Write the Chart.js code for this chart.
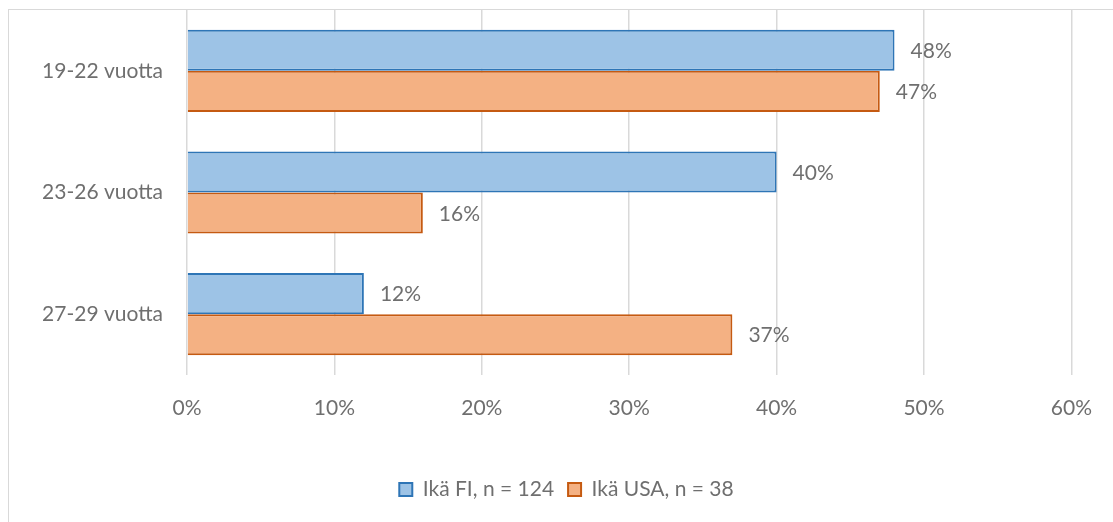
<!DOCTYPE html>
<html>
<head>
<meta charset="utf-8">
<script src="https://cdn.jsdelivr.net/npm/chart.js@4/dist/chart.umd.min.js"></script>
<style>
  body { margin: 0; background: #fff; }
  #frame { position: absolute; left: 8px; top: 9px; width: 1200px; height: 600px; border: 1.5px solid #d9d9d9; }
  #wrap { position: absolute; left: 0; top: 0; width: 1113px; height: 522px; }
</style>
</head>
<body>
<div id="frame"></div>
<div id="wrap"><canvas id="ageChart" width="1113" height="522"></canvas></div>
<script>
// age groups and shares (%)
const categories = ['19-22 vuotta', '23-26 vuotta', '27-29 vuotta'];
const fiValues = [48, 40, 12];
const usaValues = [47, 16, 37];
const fiLabel = 'Ikä FI, n = 124';
const usaLabel = 'Ikä USA, n = 38';
const xTicks = [0, 10, 20, 30, 40, 50, 60];

const textGray = '#6f6f6f';
const fontFamily = 'Lato, "Open Sans", sans-serif';
const fontSize = 21;

// draws the "48%" style labels at the end of each bar
const barValueLabels = {
  id: 'barValueLabels',
  afterDatasetsDraw(chart) {
    const ctx = chart.ctx;
    ctx.save();
    ctx.font = fontSize + 'px ' + fontFamily;
    ctx.fillStyle = textGray;
    ctx.textBaseline = 'middle';
    ctx.textAlign = 'left';
    chart.data.datasets.forEach((ds, i) => {
      chart.getDatasetMeta(i).data.forEach((bar, j) => {
        ctx.fillText(ds.data[j] + '%', bar.x + 16, bar.y + 1);
      });
    });
    ctx.restore();
  }
};

// legend in the original sits a bit right of centre
const nudgeLegend = {
  id: 'nudgeLegend',
  afterLayout(chart) {
    chart.legend.left += 30;
    chart.legend.right += 30;
  }
};

new Chart(document.getElementById('ageChart').getContext('2d'), {
  type: 'bar',
  data: {
    labels: categories,
    datasets: [
      {
        label: fiLabel,
        data: fiValues,
        backgroundColor: '#9dc3e6',
        borderColor: '#2e75b6',
        borderWidth: 2,
        categoryPercentage: 0.675,
        barPercentage: 1
      },
      {
        label: usaLabel,
        data: usaValues,
        backgroundColor: '#f4b183',
        borderColor: '#c55a11',
        borderWidth: 2,
        categoryPercentage: 0.675,
        barPercentage: 1
      }
    ]
  },
  options: {
    indexAxis: 'y',
    responsive: false,
    animation: false,
    layout: { padding: { left: 0, right: 40, top: 10, bottom: 12 } },
    scales: {
      x: {
        min: 0,
        max: 60,
        afterBuildTicks: (scale) => { scale.ticks = xTicks.map(v => ({ value: v })); },
        afterFit: (scale) => { scale.height = 90; },
        grid: { color: '#d9d9d9', lineWidth: 1.5, drawTicks: false },
        border: { display: false },
        ticks: {
          padding: 21,
          color: textGray,
          font: { family: fontFamily, size: fontSize },
          callback: (v) => v + '%'
        }
      },
      y: {
        afterFit: (scale) => {
          scale.width = 187;
          scale.paddingTop = 0;
          scale.paddingBottom = 0;
        },
        grid: { display: false, drawTicks: false },
        border: { display: false },
        ticks: {
          padding: 24,
          color: textGray,
          font: { family: fontFamily, size: fontSize }
        }
      }
    },
    plugins: {
      legend: {
        position: 'bottom',
        labels: {
          boxWidth: 13,
          boxHeight: 13,
          padding: 14,
          color: textGray,
          font: { family: fontFamily, size: fontSize }
        }
      },
      tooltip: { enabled: false }
    }
  },
  plugins: [barValueLabels, nudgeLegend]
});
</script>
</body>
</html>
